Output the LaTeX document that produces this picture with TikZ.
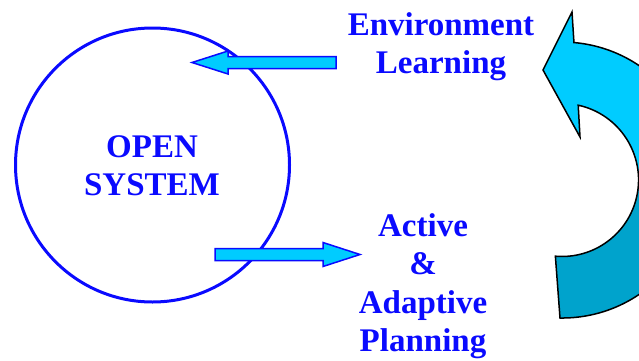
\documentclass[tikz,border=0pt]{standalone}
\usepackage{fontspec}
\setmainfont{Liberation Serif}
\usetikzlibrary{positioning}
\definecolor{textblue}{RGB}{10, 10, 255}
\definecolor{loopcyan}{RGB}{0, 204, 255}
\definecolor{loopdark}{RGB}{0, 163, 204}

% outline of the big loop arrow on the right
\newcommand{\looppath}{(560,42) arc[start angle=-90.8, end angle=85, radius=138pt]
    -- (572,348) -- (543,290) -- (580,223) -- (578.2,254.8)
    arc[start angle=77.8, end angle=-95, radius=76.5pt] -- cycle}

\begin{document}
\begin{tikzpicture}[x=1pt, y=1pt,
    bluetext/.style={text=textblue, font=\fontsize{33}{38.5}\selectfont\bfseries, align=center, inner sep=0pt},
    blockarrow/.style={draw=textblue, fill=loopcyan, line width=1.5pt, line join=miter},
    looparrow/.style={draw=black, line width=1.5pt, line join=miter}]

    \useasboundingbox (0,0) rectangle (639,360);

    % System
    \node[circle, draw=textblue, line width=3pt, minimum size=274pt, inner sep=0pt] (system) at (152.5,195) {};
    \node[bluetext, anchor=north] (systext) at (152,225) {OPEN\\SYSTEM};

    % Labels
    \node[bluetext, anchor=north] (envtext) at (441,348) {Environment\\Learning};
    \node[bluetext, anchor=north] (plantext) at (423,147) {Active\\\&\\Adaptive\\Planning};

    % Block arrows
    \coordinate (envtail) at (336,297.5);
    \coordinate (envtip) at (192,297.5);
    \coordinate (plantail) at (215,105.5);
    \coordinate (plantip) at (360,105.5);

    \draw[blockarrow] (envtail) ++(0,6) -- ++(-108,0) -- ++(0,5.5) -- (envtip)
        -- ++(36,-11.5) -- ++(0,5.5) -- ++(108,0) -- cycle;
    \draw[blockarrow] (plantail) ++(0,6) -- ++(108,0) -- ++(0,6) -- (plantip)
        -- ++(-37,-12) -- ++(0,6) -- ++(-108,0) -- cycle;

    % Loop arrow
    \begin{scope}
        \clip (0,0) rectangle (639,360);
        \draw[looparrow, fill=loopcyan, path picture={\fill[loopdark] (480,0) rectangle (720,186);}] \looppath;
    \end{scope}
\end{tikzpicture}
\end{document}
